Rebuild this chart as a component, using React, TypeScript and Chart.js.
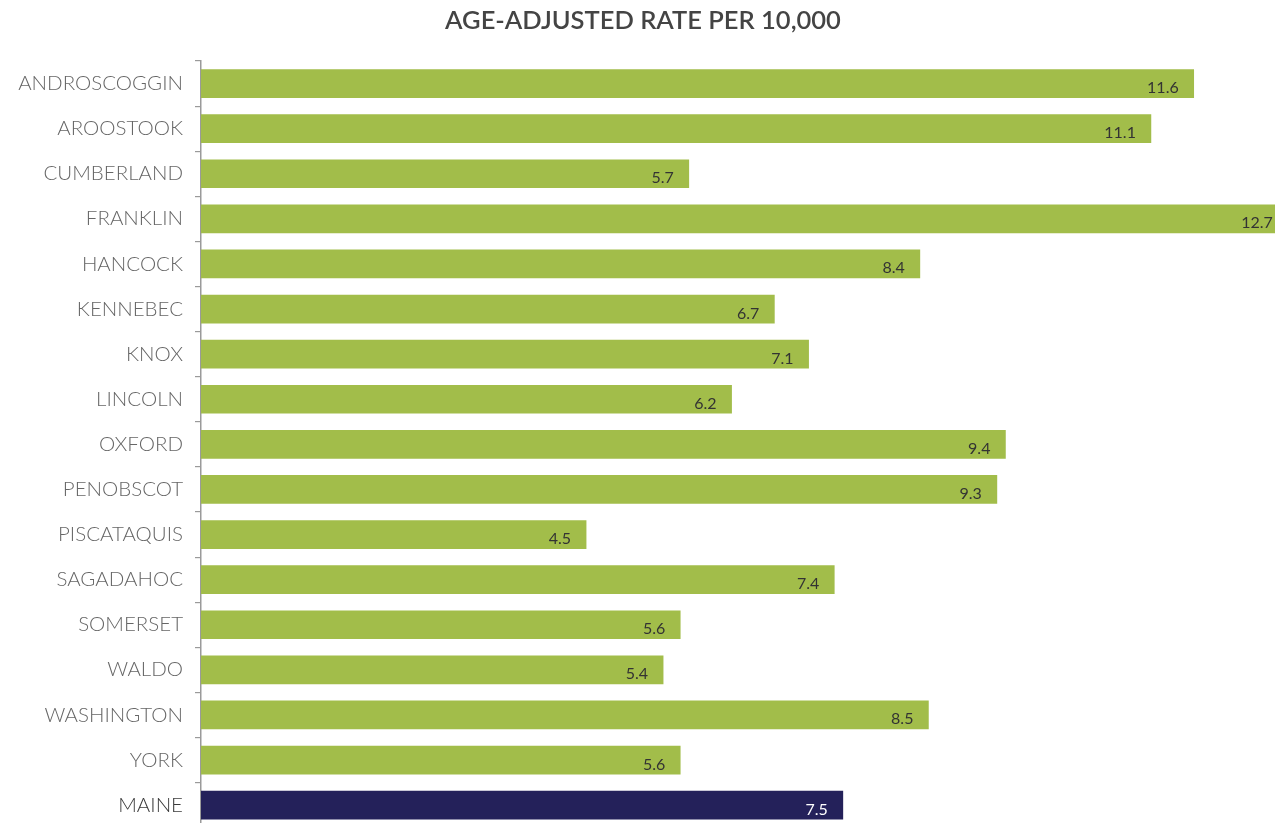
import React, { useEffect, useRef } from "react";
import { Chart, registerables } from "chart.js";

Chart.register(...registerables);

const categories = [
  "ANDROSCOGGIN", "AROOSTOOK", "CUMBERLAND", "FRANKLIN", "HANCOCK", "KENNEBEC",
  "KNOX", "LINCOLN", "OXFORD", "PENOBSCOT", "PISCATAQUIS", "SAGADAHOC",
  "SOMERSET", "WALDO", "WASHINGTON", "YORK", "MAINE",
];
const rates = [11.6, 11.1, 5.7, 12.7, 8.4, 6.7, 7.1, 6.2, 9.4, 9.3, 4.5, 7.4, 5.6, 5.4, 8.5, 5.6, 7.5];
const title = "AGE-ADJUSTED RATE PER 10,000";
const countyColor = "#A2BD4A";
const stateColor = "#24215A";

export default function App() {
  const ref = useRef<HTMLCanvasElement | null>(null);
  useEffect(() => {
    if (!ref.current) return;
    const labelPlugin = {
      id: "valueLabels",
      afterDraw(chart: any) {
        const ctx = chart.ctx;
        const meta = chart.getDatasetMeta(0);
        const xs = chart.scales.x;
        ctx.save();
        ctx.font = "16px Lato";
        ctx.textAlign = "right";
        ctx.textBaseline = "alphabetic";
        meta.data.forEach((bar: any, i: number) => {
          const v = rates[i];
          const x = xs.getPixelForValue(v) - 15;
          ctx.fillStyle = i === rates.length - 1 ? "#ffffff" : "#333333";
          ctx.fillText(v.toFixed(1), x, bar.y + 9.5);
        });
        ctx.font = "600 25.5px Lato";
        ctx.fillStyle = "#444444";
        ctx.textAlign = "center";
        ctx.textBaseline = "middle";
        ctx.fillText(title, 643, 21);
        ctx.restore();
      },
    };
    const chart = new Chart(ref.current, {
      type: "bar",
      data: {
        labels: categories,
        datasets: [
          {
            data: rates,
            backgroundColor: categories.map((c, i) => (i === categories.length - 1 ? stateColor : countyColor)),
            barThickness: 28,
          },
        ],
      },
      options: {
        indexAxis: "y",
        animation: false,
        responsive: false,
        maintainAspectRatio: false,
        layout: { padding: { top: 61, right: 0, bottom: 0, left: 0 } },
        plugins: { legend: { display: false }, tooltip: { enabled: false }, title: { display: false } },
        scales: {
          x: { display: false, min: 0, max: 12.55 },
          y: {
            afterFit(scale: any) {
              scale.width = 201;
            },
            border: { display: true, color: "#9a9a9a", width: 1.5 },
            grid: { display: true, offset: true, drawOnChartArea: false, drawTicks: true, tickLength: 6, color: "#9a9a9a", lineWidth: 1.2 },
            ticks: {
              color: (ctx: any) => (ctx.index === categories.length - 1 ? "#3a3a3a" : "#666666"),
              font: { family: "Lato", size: 20.5, weight: 300 as any },
              padding: 12,
            },
          },
        },
      },
      plugins: [labelPlugin],
    });
    return () => chart.destroy();
  }, []);
  return (
    <div style={{ position: "absolute", left: 0, top: 0, width: 1275, height: 823, overflow: "hidden", background: "#fff" }}>
      <canvas ref={ref} width={1275} height={852} style={{ display: "block", width: 1275, height: 852 }} />
    </div>
  );
}
